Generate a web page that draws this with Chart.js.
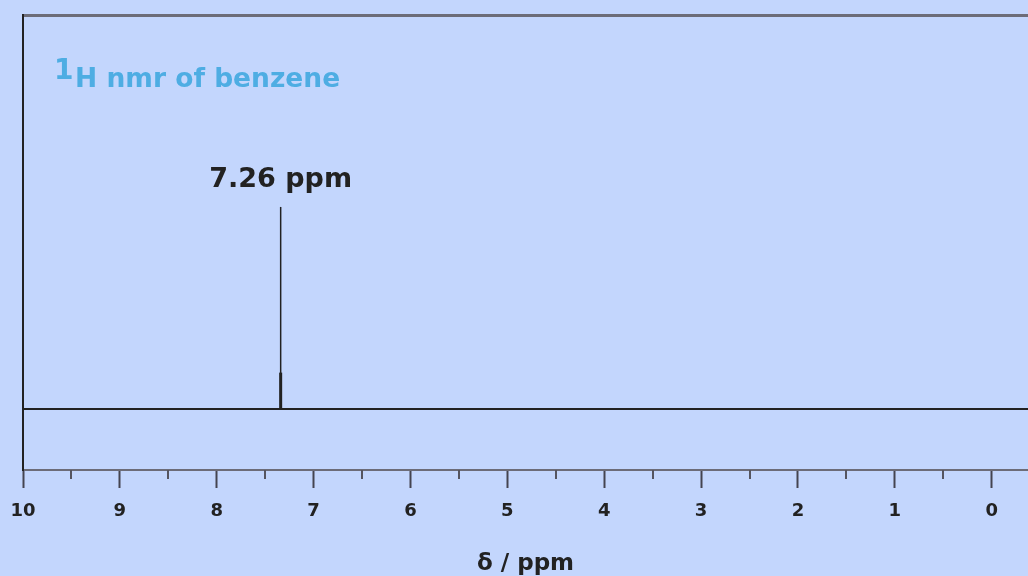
<!DOCTYPE html>
<html>
<head>
<meta charset="utf-8">
<script src="https://cdn.jsdelivr.net/npm/chart.js@4/dist/chart.umd.min.js"></script>
<style>
  html, body { margin: 0; padding: 0; background: #c3d6fd; }
  canvas { display: block; }
</style>
</head>
<body>
<canvas id="nmr" width="1028" height="576"></canvas>
<script>
// spectrum data
const peakShifts = [7.34];
const peakHeights = [1];
const peakFootHeights = [0.18];
const peakLabels = ['7.26 ppm'];
const majorTicks = [10, 9, 8, 7, 6, 5, 4, 3, 2, 1, 0];
const minorTicks = [9.5, 8.5, 7.5, 6.5, 5.5, 4.5, 3.5, 2.5, 1.5, 0.5];
const titleParts = ['1', 'H nmr of benzene'];
const axisTitle = 'δ / ppm';

const xLeft = 10;
const xRight = -0.375;

const ink = '#222222';
const frameGrey = '#6c6c78';
const titleBlue = '#4eade3';

const baseline = [{ x: xLeft, y: 0 }, { x: xRight, y: 0 }];
const peaks = peakShifts.map((s, i) => [{ x: s, y: 0 }, { x: s, y: peakHeights[i] }]);
const feet = peakShifts.map((s, i) => [{ x: s, y: 0 }, { x: s, y: peakFootHeights[i] }]);

const lineSet = (data, width) => ({
    data,
    showLine: true,
    borderColor: ink,
    borderWidth: width,
    pointRadius: 0,
    fill: false
});

const extras = {
    id: 'nmrExtras',
    afterDraw(chart) {
        const ctx = chart.ctx;
        const x = chart.scales.x;
        const y = chart.scales.y;
        const area = chart.chartArea;
        ctx.save();

        // minor ticks
        ctx.strokeStyle = '#555560';
        ctx.lineWidth = 2;
        minorTicks.forEach(v => {
            const px = Math.round(x.getPixelForValue(v));
            ctx.beginPath();
            ctx.moveTo(px, area.bottom);
            ctx.lineTo(px, area.bottom + 9);
            ctx.stroke();
        });

        // peak labels
        ctx.fillStyle = ink;
        ctx.font = 'bold 27px "DejaVu Sans"';
        ctx.textAlign = 'center';
        ctx.textBaseline = 'middle';
        peakShifts.forEach((s, i) => {
            ctx.fillText(peakLabels[i], x.getPixelForValue(s), y.getPixelForValue(peakHeights[i]) - 27);
        });

        // title
        ctx.fillStyle = titleBlue;
        ctx.textAlign = 'left';
        ctx.textBaseline = 'alphabetic';
        ctx.font = 'bold 28px "DejaVu Sans"';
        ctx.fillText(titleParts[0], area.left + 31, area.top + 64);
        ctx.font = 'bold 26.5px "DejaVu Sans"';
        ctx.fillText(titleParts[1], area.left + 52, area.top + 72);
        ctx.restore();
    }
};

new Chart(document.getElementById('nmr'), {
    type: 'scatter',
    data: {
        datasets: [
            lineSet(baseline, 2),
            ...peaks.map(p => lineSet(p, 1.5)),
            ...feet.map(p => lineSet(p, 3))
        ]
    },
    options: {
        responsive: false,
        animation: false,
        layout: { padding: { left: 23, top: 15, right: 0, bottom: 0 } },
        plugins: {
            legend: { display: false },
            tooltip: { enabled: false }
        },
        scales: {
            x: {
                type: 'linear',
                position: 'bottom',
                reverse: true,
                min: xRight,
                max: xLeft,
                afterBuildTicks: s => { s.ticks = majorTicks.map(v => ({ value: v })); },
                afterFit: s => {
                    s.height = 106;
                    s.paddingLeft = 0;
                    s.paddingRight = 0;
                },
                ticks: {
                    color: ink,
                    padding: 13,
                    maxRotation: 0,
                    autoSkip: false,
                    font: { family: '"DejaVu Sans"', size: 18, weight: 'bold' }
                },
                grid: {
                    drawOnChartArea: false,
                    drawTicks: true,
                    tickLength: 18,
                    tickWidth: 2,
                    tickColor: '#444450'
                },
                border: { display: true, color: frameGrey, width: 2 },
                title: {
                    display: true,
                    text: axisTitle,
                    color: ink,
                    padding: 0,
                    font: { family: '"DejaVu Sans"', size: 23, weight: 'bold', lineHeight: 1 }
                }
            },
            xTop: {
                type: 'linear',
                position: 'top',
                reverse: true,
                min: xRight,
                max: xLeft,
                afterFit: s => { s.height = 0; },
                ticks: { display: false },
                grid: { display: false, drawTicks: false },
                border: { display: true, color: frameGrey, width: 3 }
            },
            y: {
                type: 'linear',
                min: -0.302,
                max: 1.95,
                afterFit: s => { s.width = 0; },
                ticks: { display: false },
                grid: { display: false, drawTicks: false },
                border: { display: true, color: ink, width: 2 }
            }
        }
    },
    plugins: [extras]
});
</script>
</body>
</html>
